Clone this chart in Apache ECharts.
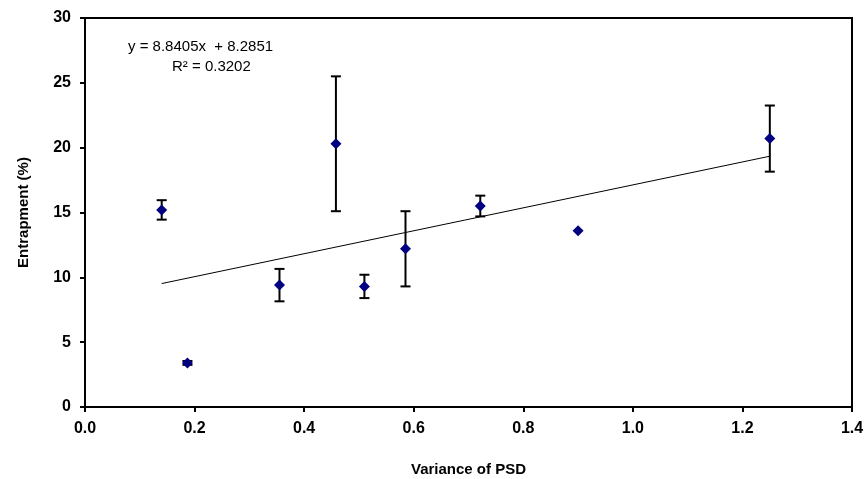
<!DOCTYPE html>
<html>
<head>
<meta charset="utf-8">
<script src="https://cdn.jsdelivr.net/npm/echarts@6/dist/echarts.min.js"></script>
<style>
  html, body { margin: 0; padding: 0; background: #fff; }
  #chart { width: 867px; height: 479px; }
</style>
</head>
<body>
<div id="chart"></div>
<script>
// data
var variance = [0.14, 0.187, 0.355, 0.458, 0.51, 0.585, 0.7215, 0.90, 1.25];
var entrapment = [15.2, 3.4, 9.4, 20.3, 9.3, 12.2, 15.5, 13.6, 20.7];
var errors = [0.75, 0.15, 1.25, 5.2, 0.9, 2.9, 0.8, 0, 2.55];
// trend line end points (y = 8.8405x + 8.2851)
var trendX = [0.14, 1.25];
var trendY = [9.52, 19.34];
var xTicks = [0, 0.2, 0.4, 0.6, 0.8, 1.0, 1.2, 1.4];
var yTicks = [0, 5, 10, 15, 20, 25, 30];

var points = variance.map(function (x, i) { return [x, entrapment[i]]; });
var bars = variance.map(function (x, i) {
  return [x, entrapment[i] - errors[i], entrapment[i] + errors[i]];
}).filter(function (d, i) { return errors[i] > 0; });
var trend = trendX.map(function (x, i) { return [x, trendY[i]]; });

var font = "'Liberation Sans', Arial, sans-serif";
var chart = echarts.init(document.getElementById("chart"));
chart.setOption({
  animation: false,
  grid: {
    left: 85, right: 15, top: 18, bottom: 72,
    outerBoundsMode: "none", containLabel: false,
    show: true, borderColor: "#000", borderWidth: 2
  },
  xAxis: {
    type: "value", min: xTicks[0], max: xTicks[xTicks.length - 1], interval: 0.2,
    name: "Variance of PSD", nameLocation: "middle", nameGap: 55,
    nameTextStyle: { fontFamily: font, fontWeight: "bold", fontSize: 15, color: "#000" },
    axisLine: { lineStyle: { color: "#000", width: 2 } },
    axisTick: { show: true, length: 5, lineStyle: { color: "#000", width: 2 } },
    splitLine: { show: false },
    axisLabel: {
      fontFamily: font, fontWeight: "bold", fontSize: 16, color: "#000", margin: 14,
      formatter: function (v) { return v.toFixed(1); }
    }
  },
  yAxis: {
    type: "value", min: yTicks[0], max: yTicks[yTicks.length - 1], interval: 5,
    name: "Entrapment (%)", nameLocation: "middle", nameGap: 54,
    nameTextStyle: { fontFamily: font, fontWeight: "bold", fontSize: 15, color: "#000" },
    axisLine: { show: true, lineStyle: { color: "#000", width: 2 } },
    axisTick: { show: true, length: 5, lineStyle: { color: "#000", width: 2 } },
    splitLine: { show: false },
    axisLabel: { fontFamily: font, fontWeight: "bold", fontSize: 16, color: "#000", margin: 14 }
  },
  graphic: [
    {
      type: "text", left: 128, top: 39,
      style: { text: "y = 8.8405x  + 8.2851", font: "15px " + font, fill: "#000" }
    },
    {
      type: "text", left: 172, top: 59,
      style: { text: "R² = 0.3202", font: "15px " + font, fill: "#000" }
    }
  ],
  series: [
    {
      type: "line", data: trend, symbol: "none", z: 1,
      lineStyle: { color: "#000", width: 1 }
    },
    {
      type: "custom", data: bars, z: 2,
      renderItem: function (params, api) {
        var lo = api.coord([api.value(0), api.value(1)]);
        var hi = api.coord([api.value(0), api.value(2)]);
        var w = 5;
        var st = { stroke: "#000", lineWidth: 2 };
        return {
          type: "group",
          children: [
            { type: "line", shape: { x1: hi[0], y1: hi[1], x2: lo[0], y2: lo[1] }, style: st },
            { type: "line", shape: { x1: hi[0] - w, y1: hi[1], x2: hi[0] + w, y2: hi[1] }, style: st },
            { type: "line", shape: { x1: lo[0] - w, y1: lo[1], x2: lo[0] + w, y2: lo[1] }, style: st }
          ]
        };
      }
    },
    {
      type: "scatter", data: points, symbol: "diamond", symbolSize: 11, z: 3,
      itemStyle: { color: "#000080", opacity: 1 }
    }
  ]
});
</script>
</body>
</html>
